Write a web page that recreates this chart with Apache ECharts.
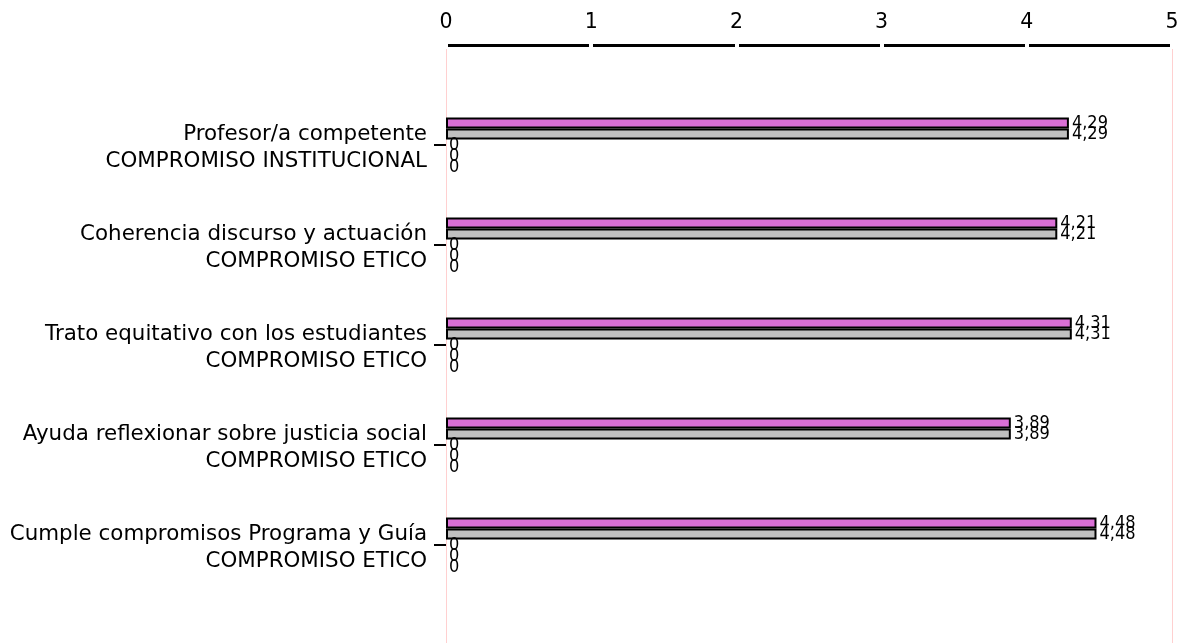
<!DOCTYPE html>
<html>
<head>
<meta charset="utf-8">
<script src="https://cdn.jsdelivr.net/npm/echarts@6/dist/echarts.min.js"></script>
<style>
html,body{margin:0;padding:0;background:#fff;}
#chart{width:1188px;height:643px;}
</style>
</head>
<body>
<div id="chart"></div>
<script>
var categories = [
  "Profesor/a competente\nCOMPROMISO INSTITUCIONAL",
  "Coherencia discurso y actuación\nCOMPROMISO ETICO",
  "Trato equitativo con los estudiantes\nCOMPROMISO ETICO",
  "Ayuda reflexionar sobre justicia social\nCOMPROMISO ETICO",
  "Cumple compromisos Programa y Guía\nCOMPROMISO ETICO"
];
var seriesA = [4.29, 4.21, 4.31, 3.89, 4.48];
var seriesB = [4.29, 4.21, 4.31, 3.89, 4.48];
var seriesC = [0, 0, 0, 0, 0];
var seriesD = [0, 0, 0, 0, 0];
var seriesE = [0, 0, 0, 0, 0];
var xTicks = {min: 0, max: 5, interval: 1};

var FONT = "DejaVu Sans";
var FONT_NUM = "'DejaVu Sans Condensed', 'DejaVu Sans'";
function fmt(p){ return String(p.value).replace('.', ','); }
function barSeries(data, color, border){
  return {
    type: 'bar', xAxisIndex: 0, yAxisIndex: 0, data: data,
    barWidth: 11, barGap: '0%',
    itemStyle: {color: color, borderColor: '#000', borderWidth: border},
    label: {show: true, position: 'right', distance: 3, formatter: fmt,
            color: '#000', fontFamily: FONT_NUM, fontSize: 18},
    animation: false
  };
}
var chart = echarts.init(document.getElementById('chart'), null, {renderer: 'canvas'});
chart.setOption({
  backgroundColor: '#fff',
  animation: false,
  grid: [
    {left: 446, right: 16, top: 95, height: 500},
    {left: 446, right: 16, top: 45, bottom: 0}
  ],
  xAxis: [
    {gridIndex: 0, type: 'value', position: 'top', offset: 50, z: 1,
     min: xTicks.min, max: xTicks.max, interval: xTicks.interval,
     axisLine: {show: true, lineStyle: {color: '#000', width: 3}},
     axisTick: {show: true, inside: false, length: 4, lineStyle: {color: '#fff', width: 4}},
     axisLabel: {show: true, color: '#000', fontFamily: FONT, fontSize: 20.5, margin: 12},
     splitLine: {show: false}},
    {gridIndex: 0, type: 'value', position: 'top', offset: 50, z: 5,
     min: xTicks.min, max: xTicks.max, interval: xTicks.interval,
     axisLine: {show: false},
     axisTick: {show: true, inside: true, length: 4, lineStyle: {color: '#fff', width: 4}},
     axisLabel: {show: false}, splitLine: {show: false}},
    {gridIndex: 1, type: 'value', position: 'bottom', z: 0,
     min: xTicks.min, max: xTicks.max, interval: xTicks.max,
     axisLine: {show: false}, axisTick: {show: false}, axisLabel: {show: false},
     splitLine: {show: true, lineStyle: {color: '#ffd0d0', width: 1}}}
  ],
  yAxis: [
    {gridIndex: 0, type: 'category', data: categories, inverse: true,
     axisLine: {show: false},
     axisTick: {show: true, alignWithLabel: true, length: 12, lineStyle: {color: '#000', width: 2}},
     axisLabel: {
       color: '#000', margin: 19, align: 'right',
       formatter: function(v){ var p = v.split('\n'); return '{c| }\n{a|' + p[0] + '}\n{a|' + p[1] + '}'; },
       rich: {
         a: {fontFamily: FONT, fontSize: 21.4, lineHeight: 27, color: '#000'},
         c: {fontFamily: FONT, fontSize: 4, lineHeight: 6, color: '#000'}
       }
     },
     splitLine: {show: false}},
    {gridIndex: 1, type: 'value', position: 'right', offset: 4, min: 0, max: 1,
     axisLine: {show: true, lineStyle: {color: '#ffd0d0', width: 1}},
     axisTick: {show: false}, axisLabel: {show: false}, splitLine: {show: false}}
  ],
  series: [
    barSeries(seriesA, '#DA70D6', 2),
    barSeries(seriesB, '#C0C0C0', 2),
    barSeries(seriesC, '#00FFFF', 0),
    barSeries(seriesD, '#FFFF00', 0),
    barSeries(seriesE, '#FF0000', 0)
  ]
});
</script>
</body>
</html>
